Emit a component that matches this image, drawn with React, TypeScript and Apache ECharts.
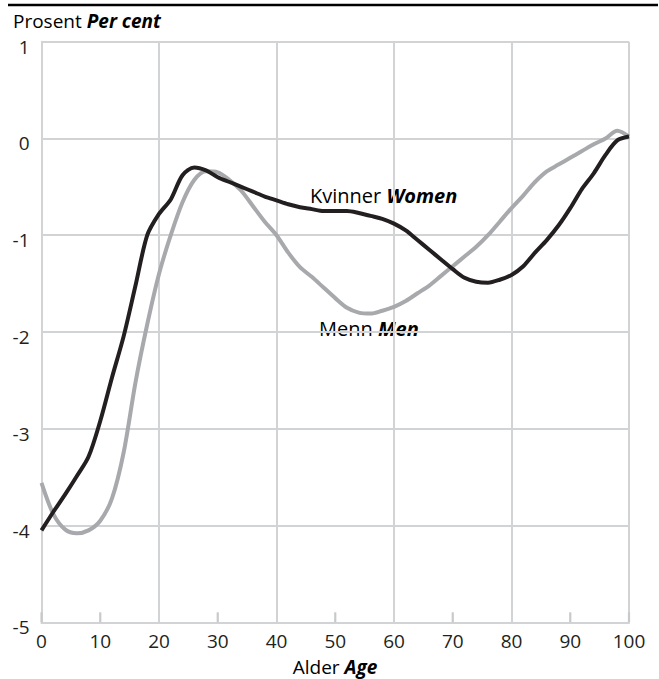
import React, { useEffect, useRef } from "react";
import * as echarts from "echarts";

const ages = [0, 2, 4, 6, 8, 10, 12, 14, 16, 18, 20, 22, 24, 26, 28, 30, 32, 34, 36, 38, 40, 42, 44, 46, 48, 50, 52, 54, 56, 58, 60, 62, 64, 66, 68, 70, 72, 74, 76, 78, 80, 82, 84, 86, 88, 90, 92, 94, 96, 98, 100];

const women = [-4.05, -3.86, -3.68, -3.49, -3.29, -2.92, -2.47, -2.04, -1.52, -1.0, -0.78, -0.63, -0.38, -0.3, -0.33, -0.4, -0.45, -0.5, -0.55, -0.6, -0.64, -0.68, -0.71, -0.73, -0.75, -0.75, -0.75, -0.77, -0.8, -0.83, -0.88, -0.95, -1.05, -1.15, -1.25, -1.35, -1.44, -1.48, -1.49, -1.46, -1.41, -1.32, -1.18, -1.05, -0.9, -0.72, -0.52, -0.36, -0.17, -0.02, 0.02];

const men = [-3.56, -3.88, -4.04, -4.08, -4.05, -3.95, -3.72, -3.24, -2.52, -1.92, -1.4, -1.0, -0.66, -0.43, -0.34, -0.35, -0.43, -0.54, -0.7, -0.86, -1.0, -1.18, -1.33, -1.43, -1.54, -1.65, -1.75, -1.8, -1.81, -1.78, -1.74, -1.68, -1.6, -1.52, -1.42, -1.32, -1.22, -1.12, -1.0, -0.86, -0.72, -0.59, -0.45, -0.34, -0.27, -0.2, -0.13, -0.06, 0.0, 0.08, 0.02];

const yTicks = { min: -5, max: 1, interval: 1 };
const xTicks = { min: 0, max: 100, interval: 10 };
const minorTickAges = [0, 10, 30, 50, 70, 90, 100];

const FONT = "'Open Sans', 'Noto Sans', sans-serif";
const TEXT = "#231f20";
const GRID = "#d2d3d4";

function richFor(size: number, lh: number) {
  return {
    n: { fontFamily: FONT, fontSize: size, color: TEXT, lineHeight: lh },
    b: { fontFamily: FONT, fontSize: size, color: TEXT, fontStyle: "italic", fontWeight: "bold", lineHeight: lh },
  };
}

export default function App() {
  const ref = useRef<HTMLDivElement>(null);
  useEffect(() => {
    if (!ref.current) return;
    const chart = echarts.init(ref.current, null, { renderer: "svg" });
    chart.setOption({
      animation: false,
      backgroundColor: "#ffffff",
      grid: { left: 41.5, right: 30, top: 41.7, bottom: 56.7, containLabel: false },
      xAxis: {
        type: "value",
        position: "bottom",
        min: xTicks.min,
        max: xTicks.max,
        interval: xTicks.interval,
        axisLine: { show: true, onZero: false, lineStyle: { color: GRID, width: 2 } },
        axisTick: { show: false },
        axisLabel: { color: TEXT, fontFamily: FONT, fontSize: 19, margin: 9 },
        splitLine: { show: true, lineStyle: { color: [GRID, "rgba(0,0,0,0)"], width: 2 } },
      },
      yAxis: {
        type: "value",
        min: yTicks.min,
        max: yTicks.max,
        interval: yTicks.interval,
        axisLine: { show: true, onZero: false, lineStyle: { color: GRID, width: 2 } },
        axisTick: { show: false },
        axisLabel: { color: TEXT, fontFamily: FONT, fontSize: 19, margin: 12, verticalAlign: "top", lineHeight: 10 },
        splitLine: { show: true, lineStyle: { color: GRID, width: 2 } },
      },
      series: [
        {
          name: "Menn Men",
          type: "line",
          data: ages.map((a, i) => [a, men[i]]),
          showSymbol: false,
          smooth: 0.3,
          lineStyle: { color: "#a7a9ac", width: 4 },
          itemStyle: { color: "#a7a9ac" },
        },
        {
          name: "Kvinner Women",
          type: "line",
          data: ages.map((a, i) => [a, women[i]]),
          showSymbol: false,
          smooth: 0.3,
          lineStyle: { color: "#231f20", width: 4 },
          itemStyle: { color: "#231f20" },
        },
      ],
      graphic: [
        {
          id: "topRule",
          type: "line",
          shape: { x1: 8, y1: 5, x2: 658, y2: 5 },
          style: { stroke: "#000000", lineWidth: 2.5 },
        },
        {
          id: "title",
          type: "text",
          x: 13,
          y: 21,
          style: { text: "{n|Prosent }{b|Per cent}", rich: richFor(19, 16), fontSize: 19, lineHeight: 16, verticalAlign: "middle", align: "left" },
        },
        {
          id: "xname",
          type: "text",
          x: 335,
          y: 667,
          style: { text: "{n|Alder }{b|Age}", rich: richFor(19, 18), fontSize: 19, verticalAlign: "middle", align: "center" },
        },
        {
          id: "women",
          type: "text",
          x: 310,
          y: 195,
          style: { text: "{n|Kvinner }{b|Women}", rich: richFor(20, 22), fontSize: 20, verticalAlign: "middle", align: "left" },
        },
        {
          id: "men",
          type: "text",
          x: 319,
          y: 328,
          style: { text: "{n|Menn }{b|Men}", rich: richFor(20, 22), fontSize: 20, verticalAlign: "middle", align: "left" },
        },
      ],
    });
    // minor ticks at the bottom, placed through the chart's own scales
    const tickGraphics = minorTickAges.map((a, i) => {
      const p = chart.convertToPixel({ gridIndex: 0 }, [a, yTicks.min]) as number[];
      return {
        id: "tick" + i,
        type: "line",
        shape: { x1: p[0], y1: p[1], x2: p[0], y2: p[1] - 10 },
        style: { stroke: "#c8c9cb", lineWidth: 2.2 },
        z: 10,
      };
    });
    chart.setOption({ graphic: tickGraphics });
    return () => chart.dispose();
  }, []);
  return <div ref={ref} style={{ width: 659, height: 679, position: "absolute", left: 0, top: 0 }} />;
}
